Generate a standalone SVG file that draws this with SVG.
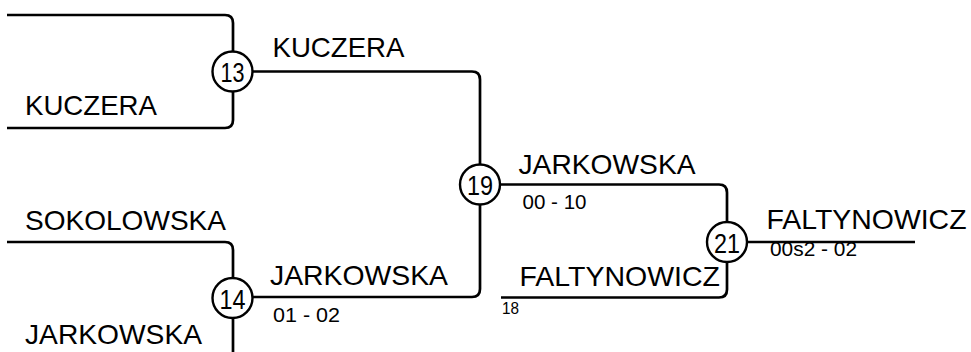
<svg xmlns="http://www.w3.org/2000/svg" width="971" height="352" viewBox="0 0 971 352">
<style>
.ln{fill:none;stroke:#000;stroke-width:2.7;stroke-linejoin:round}
.nd{fill:#fff;stroke:#000;stroke-width:2.4}
.nm{font-family:"Liberation Sans",Arial,sans-serif;font-size:27.5px;fill:#000}
.sc{font-family:"Liberation Sans",Arial,sans-serif;font-size:19.5px;fill:#000}
.sm{font-family:"Liberation Sans",Arial,sans-serif;font-size:16.5px;fill:#000}
.num{font-family:"Liberation Sans",Arial,sans-serif;font-size:28px;fill:#000;text-anchor:middle}
</style>
<g id="connectors">
<path class="ln" d="M7,15 H225 Q233,15 233,23 V52"/>
<path class="ln" d="M233,91 V120 Q233,128 225,128 H7"/>
<path class="ln" d="M252,71.5 H472 Q480,71.5 480,79.5 V165"/>
<path class="ln" d="M7,242 H225 Q233,242 233,250 V278"/>
<path class="ln" d="M233,318 V352 Q233,360 225,360"/>
<path class="ln" d="M252,297 H472 Q480,297 480,289 V204"/>
<path class="ln" d="M500,184.5 H719 Q727,184.5 727,192.5 V222"/>
<path class="ln" d="M727,262 V289.5 Q727,297.5 719,297.5 H501"/>
<path class="ln" d="M747,242 H915"/>
</g>
<g id="node13">
<circle class="nd" cx="232.5" cy="71.5" r="20"/>
<text class="num" x="232.5" y="81.5" textLength="24" lengthAdjust="spacingAndGlyphs">13</text>
</g>
<g id="node14">
<circle class="nd" cx="232.5" cy="298" r="20"/>
<text class="num" x="232.5" y="308.5" textLength="26" lengthAdjust="spacingAndGlyphs">14</text>
</g>
<g id="node19">
<circle class="nd" cx="480" cy="184.5" r="20"/>
<text class="num" x="480" y="194.5" textLength="26" lengthAdjust="spacingAndGlyphs">19</text>
</g>
<g id="node21">
<circle class="nd" cx="727" cy="242" r="20"/>
<text class="num" x="727" y="252.5" textLength="26" lengthAdjust="spacingAndGlyphs">21</text>
</g>
<g id="labels">
<text class="nm" x="25" y="115" textLength="132" lengthAdjust="spacingAndGlyphs">KUCZERA</text>
<text class="nm" x="272.5" y="57" textLength="132" lengthAdjust="spacingAndGlyphs">KUCZERA</text>
<text class="nm" x="25" y="229.5" textLength="201" lengthAdjust="spacingAndGlyphs">SOKOLOWSKA</text>
<text class="nm" x="25" y="343.5" textLength="177" lengthAdjust="spacingAndGlyphs">JARKOWSKA</text>
<text class="nm" x="270" y="285" textLength="178" lengthAdjust="spacingAndGlyphs">JARKOWSKA</text>
<text class="sc" x="273" y="321.5" textLength="67" lengthAdjust="spacingAndGlyphs">01 - 02</text>
<text class="nm" x="518.5" y="173.5" textLength="177" lengthAdjust="spacingAndGlyphs">JARKOWSKA</text>
<text class="sc" x="522.5" y="209" textLength="64" lengthAdjust="spacingAndGlyphs">00 - 10</text>
<text class="nm" x="519.5" y="286" textLength="200.5" lengthAdjust="spacingAndGlyphs">FALTYNOWICZ</text>
<text class="sm" x="502" y="313.5" textLength="17" lengthAdjust="spacingAndGlyphs">18</text>
<text class="nm" x="766.5" y="228.5" textLength="200" lengthAdjust="spacingAndGlyphs">FALTYNOWICZ</text>
<text class="sc" x="770" y="256" textLength="87" lengthAdjust="spacingAndGlyphs">00s2 - 02</text>
</g>
</svg>
